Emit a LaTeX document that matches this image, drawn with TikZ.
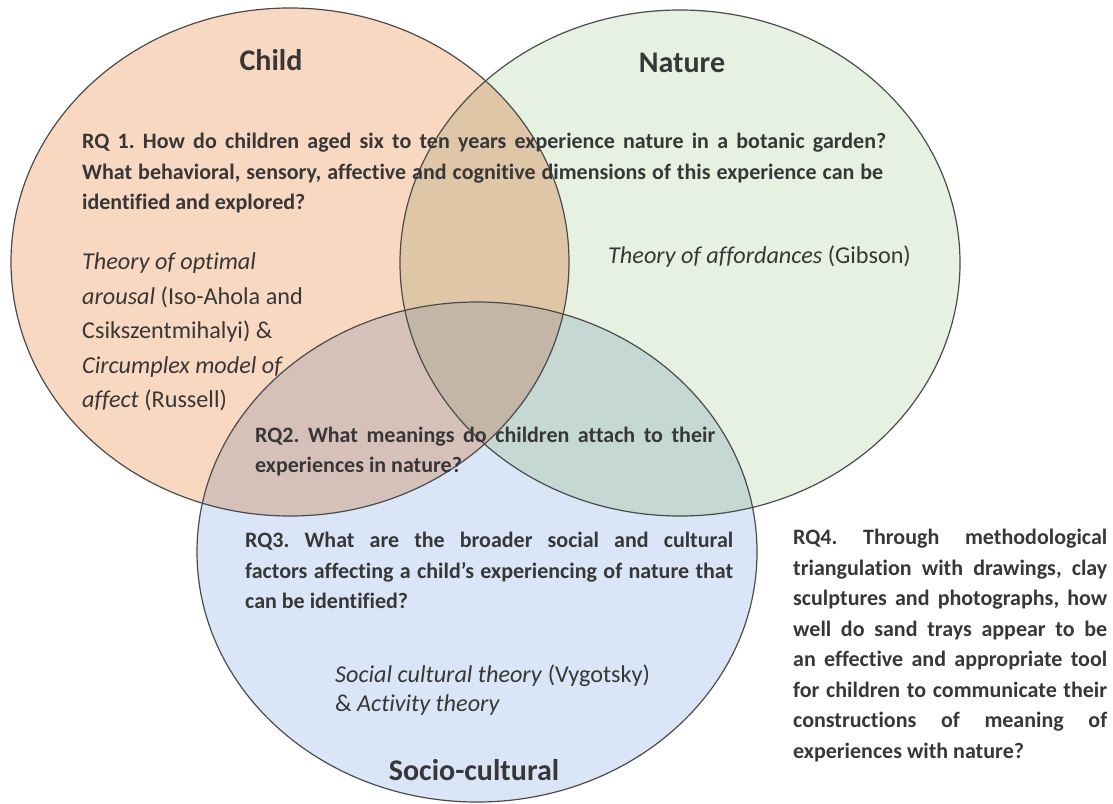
\documentclass[tikz,border=0pt]{standalone}
\usepackage{fontspec}
\setmainfont{Carlito}[Ligatures=NoCommon]
\frenchspacing
\definecolor{cC}{RGB}{249,216,193}
\definecolor{cN}{RGB}{231,241,226}
\definecolor{cS}{RGB}{218,230,247}
\definecolor{cCN}{RGB}{222,198,166}
\definecolor{cCS}{RGB}{214,192,186}
\definecolor{cNS}{RGB}{198,216,212}
\definecolor{cCNS}{RGB}{196,182,166}
\definecolor{lineC}{RGB}{75,75,75}
\definecolor{txt}{RGB}{55,55,55}
\newcommand{\rqfont}{\fontsize{22}{26}\selectfont\bfseries}
\newcommand{\thfont}{\fontsize{24.2}{28}\selectfont}
\newcommand{\ttlfont}{\fontsize{30}{34}\selectfont\bfseries}
\begin{document}
\begin{tikzpicture}[x=1pt,y=-1pt,
  childE/.style={insert path={(290,262) ellipse [x radius=279, y radius=254]}},
  natE/.style={insert path={(680,263) ellipse [x radius=280, y radius=253]}},
  socE/.style={insert path={(477,552) ellipse [x radius=280, y radius=250]}},
  outline/.style={draw=lineC, line width=1.2pt},
  rq/.style={anchor=base west, inner sep=0pt, text=txt, font=\rqfont},
  th/.style={anchor=base west, inner sep=0pt, text=txt, font=\thfont},
  ttl/.style={anchor=center, inner sep=0pt, text=txt, font=\ttlfont}]
\useasboundingbox (0,0) rectangle (1113,803);
% fills
\fill[cC, childE];
\fill[cN, natE];
\fill[cS, socE];
\begin{scope}\clip[childE]; \fill[cCN, natE];\end{scope}
\begin{scope}\clip[childE]; \fill[cCS, socE];\end{scope}
\begin{scope}\clip[natE]; \fill[cNS, socE];\end{scope}
\begin{scope}\clip[childE]; \clip[natE]; \fill[cCNS, socE];\end{scope}
% outlines
\draw[outline, childE];
\draw[outline, natE];
\draw[outline, socE];
% titles
\node[ttl] (tchild) at (271,60) {Child};
\node[ttl] (tnature) at (682,63) {Nature};
\node[ttl] (tsocio) at (474,770) {Socio-cultural};
% RQ1
\node[rq] (rq1a) at (82,148) {\makebox[804pt][s]{RQ 1. How do children aged six to ten years experience nature in a botanic garden?}};
\node[rq] (rq1b) at (82,179) {\makebox[801pt][s]{What behavioral, sensory, affective and cognitive dimensions of this experience can be}};
\node[rq] (rq1c) at (82,209) {identified and explored?};
% child theories
\node[th] (th1) at (82,269) {\itshape Theory of optimal};
\node[th] (th2) at (82,304) {\textit{arousal} (Iso-Ahola and};
\node[th] (th3) at (82,338) {Csikszentmihalyi) \&};
\node[th] (th4) at (82,373) {\itshape Circumplex model of};
\node[th] (th5) at (82,407) {\textit{affect} (Russell)};
% nature theory
\node[th] (thn) at (608,263) {\textit{Theory of affordances} (Gibson)};
% RQ2
\node[rq] (rq2a) at (255,442) {\makebox[460pt][s]{RQ2. What meanings do children attach to their}};
\node[rq] (rq2b) at (255,472) {experiences in nature?};
% RQ3
\node[rq] (rq3a) at (245,547) {\makebox[488pt][s]{RQ3. What are the broader social and cultural}};
\node[rq] (rq3b) at (245,578) {\makebox[488pt][s]{factors affecting a child’s experiencing of nature that}};
\node[rq] (rq3c) at (245,608) {can be identified?};
% socio theories
\node[th] (ths1) at (335,682) {\textit{Social cultural theory} (Vygotsky)};
\node[th] (ths2) at (335,711) {\& \textit{Activity theory}};
% RQ4
\node[rq] (rq4a) at (793,544) {\makebox[314pt][s]{RQ4. Through methodological}};
\node[rq] (rq4b) at (793,575) {\makebox[314pt][s]{triangulation with drawings, clay}};
\node[rq] (rq4c) at (793,605) {\makebox[314pt][s]{sculptures and photographs, how}};
\node[rq] (rq4d) at (793,636) {\makebox[314pt][s]{well do sand trays appear to be}};
\node[rq] (rq4e) at (793,666) {\makebox[314pt][s]{an effective and appropriate tool}};
\node[rq] (rq4f) at (793,697) {\makebox[314pt][s]{for children to communicate their}};
\node[rq] (rq4g) at (793,727) {\makebox[314pt][s]{constructions of meaning of}};
\node[rq] (rq4h) at (793,758) {experiences with nature?};
\end{tikzpicture}
\end{document}
